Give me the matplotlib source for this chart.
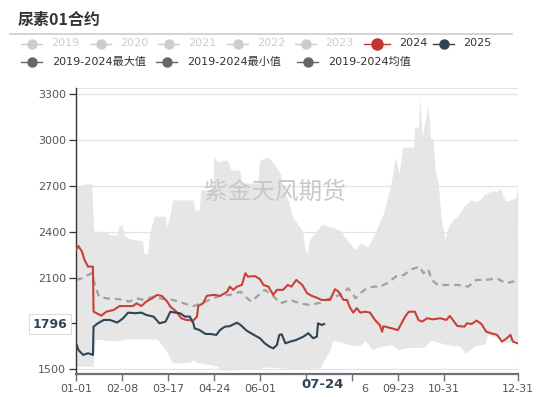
import matplotlib
matplotlib.use("Agg")
import matplotlib.pyplot as plt
from matplotlib.lines import Line2D
from matplotlib.patches import Rectangle
from matplotlib.transforms import ScaledTranslation

plt.rcParams['font.family'] = ['DejaVu Sans', 'Noto Sans CJK SC']

# ---------------- data ----------------
title = "尿素01合约"
watermark = "紫金天风期货"

tick_days = [0, 38, 76, 114, 152, 190, 228, 266, 304, 365]
tick_labels = ["01-01", "02-08", "03-17", "04-24", "06-01", "07-09", "08-16", "09-23", "10-31", "12-31"]
y_ticks = [1500, 1800, 2100, 2400, 2700, 3000, 3300]

max_days = [0, 3, 7, 13, 14.6, 26, 28, 34, 35.5, 38, 40, 43, 55, 56, 59, 61, 65, 74, 75, 78, 80, 97, 98, 102,
            103, 113, 114, 117, 125, 128, 135.5, 136.5, 150, 152, 159, 164, 169, 171, 175, 179, 183, 187, 189,
            191, 193, 198, 203, 212, 218, 224, 231, 235, 241, 247, 254, 257, 260, 264, 267, 270, 279, 280, 283,
            284, 286, 288, 291, 293, 295, 297, 299, 302, 305, 307, 311, 315, 320, 326, 330, 334, 338, 345, 348,
            350, 355, 359, 363, 365]
max_vals = [2700, 2700, 2715, 2715, 2405, 2400, 2380, 2380, 2445, 2445, 2380, 2358, 2340, 2260, 2255, 2400, 2504,
            2500, 2430, 2523, 2609, 2609, 2543, 2543, 2675, 2675, 2890, 2860, 2870, 2805, 2805, 2720, 2720, 2870,
            2890, 2840, 2780, 2695, 2610, 2500, 2450, 2410, 2300, 2250, 2347, 2400, 2450, 2430, 2410, 2347, 2280,
            2330, 2300, 2390, 2520, 2610, 2700, 2890, 2780, 2955, 2955, 3087, 3087, 3297, 3020, 3110, 3230, 3010,
            3010, 2785, 2740, 2478, 2350, 2420, 2478, 2500, 2560, 2610, 2600, 2610, 2650, 2670, 2660, 2690, 2600,
            2610, 2620, 2690]

min_days = [0, 14, 16, 32, 42, 67, 72, 76, 79, 83, 94, 97, 100, 111, 117, 119, 125, 150, 156, 169, 185, 202,
            206, 210, 212, 218, 226, 235, 239, 245, 251, 261, 266, 272, 288, 293, 305, 317, 322, 330, 338, 340,
            348, 355, 365]
min_vals = [1520, 1520, 1697, 1685, 1698, 1698, 1650, 1606, 1546, 1540, 1545, 1563, 1543, 1530, 1520, 1496, 1496,
            1500, 1515, 1510, 1500, 1510, 1574, 1626, 1690, 1680, 1660, 1655, 1690, 1626, 1650, 1660, 1626, 1640,
            1645, 1690, 1665, 1650, 1606, 1655, 1665, 1725, 1705, 1675, 1690]

mean_days = [0, 5, 10, 13, 16, 19, 25, 34, 40, 44, 50, 56, 64, 72, 80, 89, 97, 105, 113, 119, 127, 136, 138, 145,
             152, 156, 162, 169, 177, 185, 193, 202, 210, 218, 225, 231, 235, 240, 246, 251, 257, 265, 271, 277,
             284, 287, 291, 294, 299, 306, 316, 324, 331, 339, 348, 355, 361, 365]
mean_vals = [2085, 2096, 2118, 2129, 2041, 1976, 1965, 1960, 1954, 1943, 1965, 1954, 1976, 1960, 1954, 1932, 1914,
             1936, 1965, 1980, 1987, 2008, 1987, 1943, 1994, 2020, 1987, 1932, 1954, 1932, 1921, 1936, 1965, 1987,
             2030, 1965, 1998, 2030, 2041, 2041, 2063, 2111, 2118, 2155, 2172, 2129, 2155, 2085, 2052, 2052, 2052,
             2041, 2085, 2085, 2096, 2063, 2074, 2080]

y2024_days = [0, 2, 5, 7, 10, 14, 14.5, 17, 21, 25, 31, 36, 47, 50, 54, 58, 63, 67, 71, 75, 78, 83, 87, 91, 97,
              100, 101, 105, 108, 111, 115, 119, 125, 127, 130, 133, 137, 140, 142, 148, 152, 155, 159, 163, 166,
              171, 175, 178, 182, 187, 191, 195, 199, 203, 210, 214, 217, 221, 224, 226, 229, 232, 235, 239, 243,
              247, 251, 253, 254, 261, 266, 269, 272, 275, 280, 283, 286, 290, 295, 301, 306, 309, 315, 321, 323,
              327, 331, 335, 339, 343, 348, 352, 356, 359, 361, 365]
y2024_vals = [2281, 2307, 2270, 2216, 2172, 2172, 1877, 1867, 1851, 1877, 1888, 1914, 1914, 1932, 1914, 1943, 1965,
              1987, 1980, 1947, 1910, 1877, 1834, 1823, 1820, 1845, 1914, 1932, 1980, 1985, 1987, 1980, 2008, 2041,
              2020, 2041, 2052, 2129, 2107, 2110, 2090, 2052, 2041, 1987, 2020, 2020, 2052, 2041, 2085, 2052, 1998,
              1980, 1969, 1954, 1954, 2024, 2008, 1954, 1954, 1910, 1871, 1900, 1871, 1877, 1871, 1823, 1790, 1746,
              1782, 1768, 1757, 1801, 1845, 1877, 1877, 1823, 1812, 1834, 1827, 1834, 1823, 1849, 1784, 1779, 1801,
              1797, 1819, 1797, 1746, 1736, 1725, 1681, 1703, 1725, 1681, 1670]

y2025_days = [0, 2, 6, 10, 14, 14.5, 18, 23, 28, 34, 39, 43, 49, 54, 58, 64, 69, 74, 78, 82, 86, 90, 94, 97, 98,
              102, 107, 111, 116, 119, 123, 127, 133, 136, 141, 147, 152, 156, 160, 163, 166, 168, 170, 173, 177,
              182, 188, 192, 196, 199, 200, 203, 205]
y2025_vals = [1674, 1626, 1594, 1605, 1594, 1779, 1801, 1823, 1823, 1806, 1834, 1871, 1867, 1871, 1856, 1845, 1801,
              1812, 1877, 1871, 1867, 1845, 1845, 1801, 1768, 1757, 1731, 1731, 1725, 1757, 1779, 1782, 1805, 1790,
              1753, 1725, 1703, 1670, 1648, 1637, 1659, 1725, 1729, 1670, 1681, 1692, 1714, 1736, 1703, 1714, 1801,
              1790, 1796]

pointer_day = 205
pointer_label = "07-24"
pointer_value = 1796

legend_row1 = ["2019", "2020", "2021", "2022", "2023", "2024", "2025"]
legend_row1_colors = ["#cccccc"] * 5 + ["#c23531", "#2f4554"]
legend_row2 = ["2019-2024最大值", "2019-2024最小值", "2019-2024均值"]

# ---------------- figure ----------------
W, H = 550, 397
fig = plt.figure(figsize=(W / 100, H / 100), dpi=100)
fig.patch.set_facecolor("white")


def fx(px):
    return px / W


def fy(py):
    return 1 - py / H


ax = fig.add_axes([fx(76), fy(374), fx(517.7) - fx(76), fy(87.7) - fy(374)])
ax.set_xlim(0, 365)
ax.set_ylim(1469, 3344)

# band
ax.fill_between(max_days, max_vals, 1469, color="#e6e6e6", lw=0, zorder=0.5)
ax.fill_between(min_days, min_vals, 1469, color="white", lw=0, zorder=0.6)

# grid lines above band
for v in y_ticks + [3344]:
    ax.axhline(v, color="#e3e3e3", lw=0.9, zorder=1)

ax.plot(mean_days, mean_vals, color="#a0a0a0", lw=1.6, ls=(0, (3, 2.2)), zorder=2)
ax.plot(y2024_days, y2024_vals, color="#c9403a", lw=1.5, zorder=3)
ax.plot(y2025_days, y2025_vals, color="#2f4554", lw=1.5, zorder=4)

for s in ["top", "right"]:
    ax.spines[s].set_visible(False)
ax.spines["left"].set_color("#333333")
ax.spines["left"].set_linewidth(1.0)
ax.spines["bottom"].set_color("#6e7079")
ax.spines["bottom"].set_linewidth(1.6)

# labels hidden behind the axis-pointer boxes in the reference
ax.set_yticks(y_ticks)
ax.set_yticklabels(["" if v == 1800 else str(v) for v in y_ticks])
ax.set_xticks(tick_days)
shown = []
for lab in tick_labels:
    if lab == "07-09":
        shown.append("")
    elif lab == "08-16":
        shown.append(lab[-1])   # only the last character peeks out
    else:
        shown.append(lab)
ax.set_xticklabels(shown)
ax.tick_params(axis="y", length=5, width=0.9, color="#333333", labelcolor="#555555", labelsize=8, pad=2)
ax.tick_params(axis="x", length=5, width=1.0, color="#6e7079", labelcolor="#555555", labelsize=8, pad=2)
for t, lab in zip(ax.get_xticklabels(), tick_labels):
    if lab == "08-16":
        t.set_transform(t.get_transform() + ScaledTranslation(0.13, 0, fig.dpi_scale_trans))

# axis pointer labels
fig.text(fx(323), fy(385), pointer_label, ha="center", va="center", fontsize=9.5,
         fontweight="bold", color="#2f4554", zorder=21)

ax.annotate(str(pointer_value), xy=(0, pointer_value), xycoords=("axes fraction", "data"),
            xytext=(-6, 0), textcoords="offset points", ha="right", va="center",
            fontsize=9, fontweight="bold", color="#2f4554", annotation_clip=False, zorder=30,
            bbox=dict(boxstyle="square,pad=0.3", fc="white", ec="#dddddd", lw=0.8))

# watermark
fig.text(fx(275), fy(192), watermark, ha="center", va="center", fontsize=17,
         color="#c8c8c8", family=["Noto Sans CJK SC"], zorder=10)

# title
fig.text(fx(18), fy(20), title, ha="left", va="center", fontsize=11.5, fontweight="bold",
         color="#333333", family=["Noto Sans CJK SC"])
fig.add_artist(Line2D([fx(10), fx(512)], [fy(34), fy(34)], transform=fig.transFigure,
                      color="#cccccc", lw=1.2))

# legend
row1_icon_x = [21, 90, 158, 227, 295, 364, 433]
for i, (lab, col) in enumerate(zip(legend_row1, legend_row1_colors)):
    x0 = row1_icon_x[i]
    w = 26 if lab == "2024" else 21
    ms = 8 if lab == "2024" else 6.5
    fig.add_artist(Line2D([fx(x0), fx(x0 + w)], [fy(43.5), fy(43.5)], transform=fig.transFigure,
                          color=col, lw=1.0))
    fig.add_artist(Line2D([fx(x0 + w / 2)], [fy(43.5)], transform=fig.transFigure, marker="o",
                          markersize=ms, color=col, lw=0))
    tcol = "#cccccc" if col == "#cccccc" else "#333333"
    fig.text(fx(x0 + w + 9), fy(43.5), lab, ha="left", va="center", fontsize=8, color=tcol)

row2_icon_x = [21, 156, 297]
for i, lab in enumerate(legend_row2):
    x0 = row2_icon_x[i]
    fig.add_artist(Line2D([fx(x0), fx(x0 + 21)], [fy(62), fy(62)], transform=fig.transFigure,
                          color="#666666", lw=1.0))
    fig.add_artist(Line2D([fx(x0 + 10.5)], [fy(62)], transform=fig.transFigure, marker="o",
                          markersize=6.5, color="#666666", lw=0))
    fig.text(fx(x0 + 31), fy(62), lab, ha="left", va="center", fontsize=8, color="#333333")

fig.savefig("out.png", dpi=100, facecolor="white")
